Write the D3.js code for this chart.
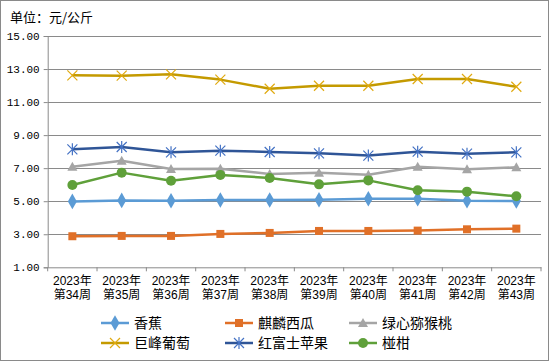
<!DOCTYPE html>
<html><head><meta charset="utf-8">
<script src="https://cdn.jsdelivr.net/npm/d3@7/dist/d3.min.js"></script>
<style>body{margin:0;background:#fff;} svg{display:block;}</style>
</head><body>
<script>
const categories = ["2023年\n第34周","2023年\n第35周","2023年\n第36周","2023年\n第37周","2023年\n第38周","2023年\n第39周","2023年\n第40周","2023年\n第41周","2023年\n第42周","2023年\n第43周"];
const banana     = [4.99,5.05,5.03,5.07,5.07,5.09,5.15,5.15,5.03,5.01];
const watermelon = [2.88,2.90,2.90,3.02,3.08,3.20,3.20,3.22,3.30,3.34];
const kiwi       = [7.09,7.45,6.95,6.97,6.65,6.73,6.60,7.09,6.93,7.05];
const grape      = [12.62,12.60,12.68,12.36,11.81,11.99,11.99,12.40,12.40,11.93];
const fuji       = [8.14,8.28,7.96,8.06,7.98,7.90,7.76,8.00,7.88,7.96];
const citrus     = [5.98,6.73,6.24,6.59,6.41,6.02,6.26,5.66,5.58,5.30];
const yTicks = [1,3,5,7,9,11,13,15];
const unitLabel = "单位：元/公斤";

const series = [
  {name:"香蕉", values:banana, line:"#5B9BD5", mark:"#5B9BD5", shape:"diamond"},
  {name:"麒麟西瓜", values:watermelon, line:"#E07028", mark:"#E07028", shape:"square"},
  {name:"绿心猕猴桃", values:kiwi, line:"#A5A5A5", mark:"#A5A5A5", shape:"triangle"},
  {name:"巨峰葡萄", values:grape, line:"#C49A00", mark:"#E0AA10", shape:"x"},
  {name:"红富士苹果", values:fuji, line:"#2F5597", mark:"#4472C4", shape:"star"},
  {name:"椪柑", values:citrus, line:"#5FA03A", mark:"#5FA03A", shape:"circle"}
];

const W=550,H=362;
const svg=d3.select("body").append("svg").attr("width",W).attr("height",H);
svg.append("rect").attr("x",0.5).attr("y",0.5).attr("width",W-2).attr("height",H-2)
  .attr("fill","#fff").attr("stroke","#8a8a8a").attr("stroke-width",1);

const L=47.7,R=541,T=36,B=267.3;
const x=d3.scaleBand().domain(categories).range([L,R]).padding(0);
const y=d3.scaleLinear().domain([1,15]).range([B,T]);
const cx=c=>x(c)+x.bandwidth()/2;

// title
svg.append("text").attr("x",10).attr("y",22).text(unitLabel)
  .attr("font-family","Noto Sans CJK SC").attr("font-size",13).attr("fill","#000");

// gridlines + y axis
const yAxis=d3.axisLeft(y).tickValues(yTicks).tickFormat(d=>d3.format(".2f")(d)).tickSize(4).tickPadding(4);
const gy=svg.append("g").attr("transform",`translate(${L},0)`).call(yAxis);
gy.select(".domain").attr("stroke","#8a8a8a");
gy.selectAll(".tick line").attr("stroke","#8a8a8a");
gy.selectAll(".tick text").attr("font-family","Liberation Mono, DejaVu Sans Mono").attr("font-size",11).attr("fill","#000");
svg.append("g").selectAll("line").data(yTicks.filter(d=>d>1)).join("line")
  .attr("x1",L).attr("x2",R).attr("y1",d=>Math.round(y(d))+0.5).attr("y2",d=>Math.round(y(d))+0.5)
  .attr("stroke","#8a8a8a").attr("stroke-width",1);

// x axis
const xAxis=d3.axisBottom(x).tickSize(0).tickFormat("");
const gx=svg.append("g").attr("transform",`translate(0,${B})`).call(xAxis);
gx.select(".domain").attr("stroke","#8a8a8a");
const bounds=categories.map(c=>x(c)).concat([x(categories[categories.length-1])+x.bandwidth()]);
svg.append("g").selectAll("line").data(bounds).join("line")
  .attr("x1",d=>d).attr("x2",d=>d).attr("y1",B).attr("y2",B+4).attr("stroke","#8a8a8a");
[0,1].forEach(k=>{
  svg.append("g").selectAll("text").data(categories).join("text")
    .attr("x",d=>cx(d)).attr("y",285+k*14).attr("text-anchor","middle")
    .attr("font-family","'Liberation Sans', 'Noto Sans CJK SC'").attr("font-size",12).attr("fill","#000")
    .text(d=>d.split("\n")[k]);
});

function drawMarker(g,shape,color,px,py){
  if(shape==="diamond"){
    g.append("path").attr("d",d3.symbol(d3.symbolDiamond,70)()).attr("transform",`translate(${px},${py})`).attr("fill",color);
  } else if(shape==="square"){
    g.append("rect").attr("x",px-4).attr("y",py-4).attr("width",8).attr("height",8).attr("fill",color);
  } else if(shape==="triangle"){
    g.append("path").attr("d",`M${px},${py-5}L${px+5},${py+4}L${px-5},${py+4}Z`).attr("fill",color);
  } else if(shape==="circle"){
    g.append("circle").attr("cx",px).attr("cy",py).attr("r",5).attr("fill",color);
  } else if(shape==="x"){
    g.append("path").attr("d",`M${px-5},${py-5}L${px+5},${py+5}M${px-5},${py+5}L${px+5},${py-5}`).attr("stroke",color).attr("stroke-width",1.2).attr("fill","none");
  } else if(shape==="star"){
    g.append("path").attr("d",`M${px-5},${py-5}L${px+5},${py+5}M${px-5},${py+5}L${px+5},${py-5}M${px},${py-6}L${px},${py+6}`).attr("stroke",color).attr("stroke-width",1.2).attr("fill","none");
  }
}

const line=d3.line().x((d,i)=>cx(categories[i])).y(d=>y(d));
const plot=svg.append("g");
series.forEach(s=>{
  plot.append("path").datum(s.values).attr("d",line).attr("fill","none")
    .attr("stroke",s.line).attr("stroke-width",2.5).attr("stroke-linejoin","round");
  s.values.forEach((v,i)=>drawMarker(plot,s.shape,s.mark,cx(categories[i]),y(v)));
});

// legend
const legX=[101,225,349], legY=[323,343];
series.forEach((s,i)=>{
  const lx=legX[i%3], ly=legY[Math.floor(i/3)];
  const g=svg.append("g");
  g.append("line").attr("x1",lx).attr("x2",lx+28).attr("y1",ly).attr("y2",ly).attr("stroke",s.line).attr("stroke-width",2.5);
  drawMarker(g,s.shape,s.mark,lx+14,ly);
  g.append("text").attr("x",lx+33).attr("y",ly+5).text(s.name)
    .attr("font-family","Noto Sans CJK SC").attr("font-size",14).attr("fill","#000");
});
</script>
</body></html>
